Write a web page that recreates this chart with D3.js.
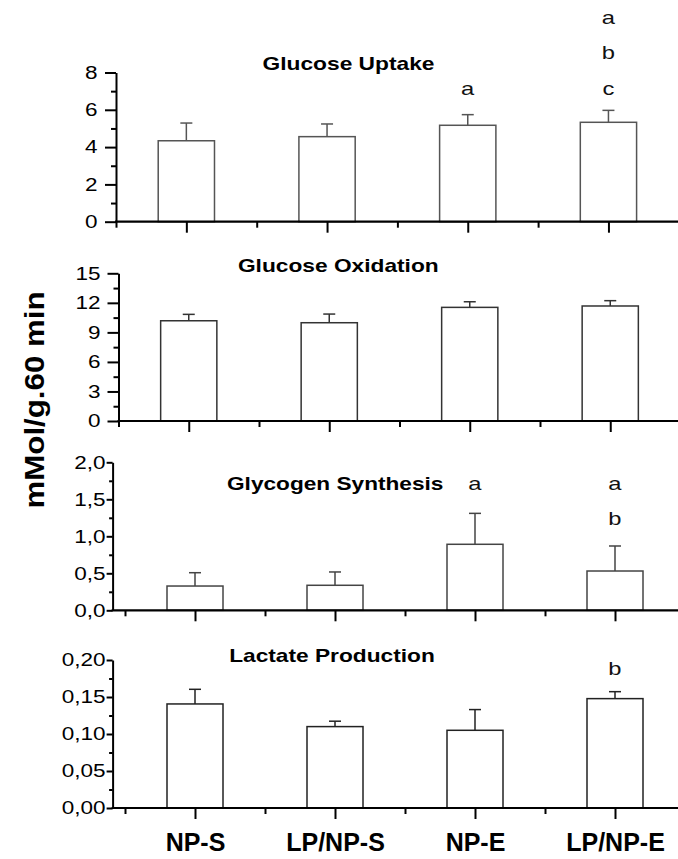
<!DOCTYPE html>
<html><head><meta charset="utf-8">
<script src="https://cdn.jsdelivr.net/npm/d3@7"></script>
<style>body{margin:0;background:#fff} text{font-family:"Liberation Sans", Arial, sans-serif}</style>
</head><body><svg id="c" width="678" height="859"></svg>
<script>
// ---- data ----
const categories = ["NP-S", "LP/NP-S", "NP-E", "LP/NP-E"];
const titles = ["Glucose Uptake", "Glucose Oxidation", "Glycogen Synthesis", "Lactate Production"];
const yLabel = "mMol/g.60 min";

const uptakeMean = [4.34, 4.56, 5.17, 5.33];
const uptakeErr  = [0.95, 0.68, 0.57, 0.64];
const oxidationMean = [10.18, 9.98, 11.54, 11.68];
const oxidationErr  = [0.65, 0.88, 0.57, 0.54];
const glycogenMean = [0.328, 0.338, 0.892, 0.531];
const glycogenErr  = [0.18, 0.18, 0.418, 0.338];
const lactateMean = [0.1406, 0.110, 0.105, 0.1478];
const lactateErr  = [0.0198, 0.0073, 0.028, 0.0094];

const uptakeLetters = [[], [], ["", "", "a"], ["a", "b", "c"]];
const oxidationLetters = [[], [], [], []];
const glycogenLetters = [[], [], ["a"], ["a", "b"]];
const lactateLetters = [[], [], [], ["b"]];

const uptakeTicks = [0, 2, 4, 6, 8];
const uptakeTickLabels = ["0", "2", "4", "6", "8"];
const oxidationTicks = [0, 3, 6, 9, 12, 15];
const oxidationTickLabels = ["0", "3", "6", "9", "12", "15"];
const glycogenTicks = [0, 0.5, 1.0, 1.5, 2.0];
const glycogenTickLabels = ["0,0", "0,5", "1,0", "1,5", "2,0"];
const lactateTicks = [0, 0.05, 0.10, 0.15, 0.20];
const lactateTickLabels = ["0,00", "0,05", "0,10", "0,15", "0,20"];

// ---- layout (positions / styles only) ----
const layout = [
  {top:72.5, bottom:221.7, axisX:116, start:116, step:140.7, tickLen:11, minorLen:5, pad:7.5, titleX:348.5, titleY:69.5, titleW:172, letterTop:24, stroke:"#555"},
  {top:273.3, bottom:421, axisX:118.5, start:118.5, step:140.5, tickLen:11, minorLen:5, pad:7, titleX:338.3, titleY:272, titleW:200.8, letterTop:0, stroke:"#333"},
  {top:462.3, bottom:610.3, axisX:112.6, start:125, step:140, tickLen:6, minorLen:3.5, pad:1, titleX:335.2, titleY:490, titleW:216.4, letterTop:490, stroke:"#444"},
  {top:660, bottom:808, axisX:112.6, start:125, step:140, tickLen:6, minorLen:3.5, pad:1, titleX:332, titleY:661.5, titleW:205.7, letterTop:675, stroke:"#222"}
];
const stretch = 1.25;

const panels = [
  {mean:uptakeMean, err:uptakeErr, letters:uptakeLetters, ticks:uptakeTicks, labels:uptakeTickLabels},
  {mean:oxidationMean, err:oxidationErr, letters:oxidationLetters, ticks:oxidationTicks, labels:oxidationTickLabels},
  {mean:glycogenMean, err:glycogenErr, letters:glycogenLetters, ticks:glycogenTicks, labels:glycogenTickLabels},
  {mean:lactateMean, err:lactateErr, letters:lactateLetters, ticks:lactateTicks, labels:lactateTickLabels}
];

const svg = d3.select("#c");
const W = 678;
const letterSpacing = 35.3;

function widen(sel) {
  sel.each(function () {
    const w = this.getComputedTextLength();
    d3.select(this).attr("textLength", w * stretch).attr("lengthAdjust", "spacingAndGlyphs");
  });
}

panels.forEach((p, k) => {
  const L = layout[k];
  const g = svg.append("g");
  const tmax = p.ticks[p.ticks.length - 1];
  const y = d3.scaleLinear().domain([0, tmax]).range([L.bottom, L.top]);
  const x = d3.scaleLinear().domain([0.5, 4.5]).range([L.start, L.start + 4 * L.step]);
  const idx = categories.map((c, i) => i + 1);
  const bw = 0.4 * L.step;

  g.selectAll("rect.bar").data(p.mean).join("rect")
    .attr("x", (d, i) => x(idx[i]) - bw / 2)
    .attr("y", d => y(d))
    .attr("width", bw)
    .attr("height", d => y(0) - y(d))
    .attr("fill", "#fff").attr("stroke", L.stroke).attr("stroke-width", 1.5);

  g.selectAll("line.err").data(p.mean).join("line")
    .attr("x1", (d, i) => x(idx[i])).attr("x2", (d, i) => x(idx[i]))
    .attr("y1", d => y(d)).attr("y2", (d, i) => y(d + p.err[i]))
    .attr("stroke", L.stroke).attr("stroke-width", 1.5);
  g.selectAll("line.cap").data(p.mean).join("line")
    .attr("x1", (d, i) => x(idx[i]) - 6).attr("x2", (d, i) => x(idx[i]) + 6)
    .attr("y1", (d, i) => y(d + p.err[i])).attr("y2", (d, i) => y(d + p.err[i]))
    .attr("stroke", L.stroke).attr("stroke-width", 1.5);

  const yAx = d3.axisLeft(y).tickValues(p.ticks)
    .tickFormat((d, i) => p.labels[i]).tickSize(L.tickLen).tickSizeOuter(0).tickPadding(L.pad);
  const ga = g.append("g").attr("transform", `translate(${L.axisX},0)`).call(yAx);
  ga.select(".domain").attr("stroke-width", 2).attr("stroke", "#000");
  ga.selectAll(".tick line").attr("stroke-width", 2).attr("stroke", "#000");
  ga.selectAll(".tick text").attr("font-size", 18).attr("fill", "#000")
    .attr("font-family", "Liberation Sans, Arial, sans-serif").call(widen);
  const minorVals = d3.range(p.ticks.length - 1).map(i => (p.ticks[i] + p.ticks[i + 1]) / 2);
  const ym = d3.axisLeft(y).tickValues(minorVals).tickFormat("").tickSize(L.minorLen).tickSizeOuter(0);
  const gm = g.append("g").attr("transform", `translate(${L.axisX},0)`).call(ym);
  gm.select(".domain").remove();
  gm.selectAll(".tick line").attr("stroke-width", 2).attr("stroke", "#000");

  g.append("line").attr("x1", L.axisX - 1).attr("x2", W + 5)
    .attr("y1", y(0)).attr("y2", y(0)).attr("stroke", "#000").attr("stroke-width", 2.2);
  const xAx = d3.axisBottom(x).tickValues(idx).tickFormat(k === 3 ? ((d, i) => categories[i]) : "")
    .tickSize(11).tickSizeOuter(0).tickPadding(14);
  const gx = g.append("g").attr("transform", `translate(0,${y(0)})`).call(xAx);
  gx.select(".domain").remove();
  gx.selectAll(".tick line").attr("stroke-width", 2).attr("stroke", "#000");
  gx.selectAll(".tick text").attr("font-size", 25).attr("font-weight", "bold").attr("fill", "#000")
    .attr("font-family", "Liberation Sans, Arial, sans-serif");
  const xm = d3.axisBottom(x).tickValues([0.5, 1.5, 2.5, 3.5, 4.5]).tickFormat("").tickSize(6).tickSizeOuter(0);
  const gxm = g.append("g").attr("transform", `translate(0,${y(0)})`).call(xm);
  gxm.select(".domain").remove();
  gxm.selectAll(".tick line").attr("stroke-width", 2).attr("stroke", "#000");

  g.append("text").attr("x", L.titleX).attr("y", L.titleY).attr("text-anchor", "middle")
    .attr("font-size", 19).attr("font-weight", "bold")
    .attr("textLength", L.titleW).attr("lengthAdjust", "spacingAndGlyphs")
    .text(titles[k]);

  p.letters.forEach((arr, i) => {
    arr.forEach((ch, r) => {
      if (!ch) return;
      g.append("text").attr("x", x(idx[i])).attr("y", L.letterTop + r * letterSpacing)
        .attr("text-anchor", "middle").attr("font-size", 19).attr("fill", "#111").text(ch)
        .call(widen);
    });
  });
});

svg.append("text").attr("transform", "translate(44,400) rotate(-90)")
  .attr("text-anchor", "middle").attr("font-size", 28).attr("font-weight", "bold")
  .attr("textLength", 217).attr("lengthAdjust", "spacingAndGlyphs")
  .text(yLabel);
</script>
</body></html>
